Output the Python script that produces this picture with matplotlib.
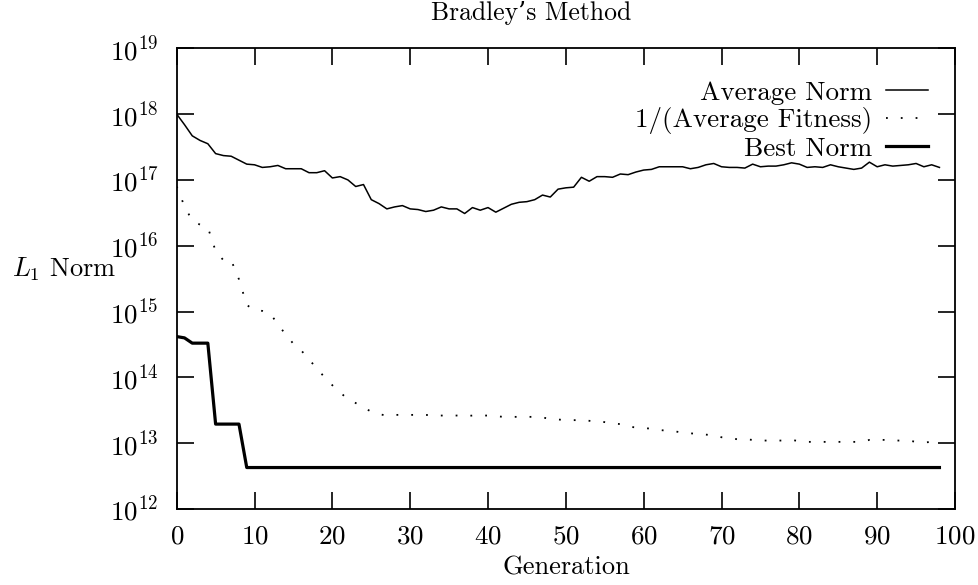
#!/usr/bin/env python3
"""
Redraw the "Bradley's Method" convergence plot (L1 norm per generation).
"""

import matplotlib

matplotlib.use("Agg")
import matplotlib.pyplot as plt
import numpy as np
from matplotlib.ticker import LogLocator, MultipleLocator

# generations 0..98
generations = list(range(99))

# log10 of the average norm
average_norm_log = [
    18.00, 17.84, 17.67, 17.60, 17.55, 17.40, 17.37, 17.36, 17.30, 17.24,
    17.23, 17.19, 17.20, 17.22, 17.17, 17.17, 17.17, 17.11, 17.11, 17.14,
    17.03, 17.05, 17.00, 16.90, 16.93, 16.70, 16.64, 16.56, 16.59, 16.61,
    16.56, 16.55, 16.52, 16.54, 16.59, 16.56, 16.56, 16.49, 16.58, 16.54,
    16.58, 16.51, 16.57, 16.63, 16.66, 16.67, 16.70, 16.77, 16.74, 16.86,
    16.88, 16.89, 17.04, 16.98, 17.05, 17.05, 17.04, 17.09, 17.08, 17.12,
    17.15, 17.16, 17.20, 17.20, 17.20, 17.20, 17.17, 17.19, 17.23, 17.25,
    17.20, 17.19, 17.19, 17.18, 17.24, 17.20, 17.21, 17.21, 17.23, 17.26,
    17.24, 17.19, 17.20, 17.19, 17.23, 17.20, 17.18, 17.16, 17.18, 17.27,
    17.20, 17.23, 17.21, 17.22, 17.23, 17.25, 17.20, 17.23, 17.19,
]

# log10 of 1/(average fitness)
inv_fitness_log = [
    16.90, 16.60, 16.38, 16.32, 16.28, 15.92, 15.78, 15.78, 15.49, 15.10,
    15.02, 15.01, 14.97, 14.81, 14.65, 14.51, 14.41, 14.27, 14.14, 14.00,
    13.88, 13.77, 13.67, 13.61, 13.54, 13.48, 13.44, 13.42, 13.43, 13.43,
    13.43, 13.43, 13.43, 13.42, 13.42, 13.42, 13.42, 13.41, 13.42, 13.42,
    13.42, 13.41, 13.40, 13.40, 13.40, 13.40, 13.40, 13.39, 13.37, 13.36,
    13.35, 13.35, 13.35, 13.34, 13.33, 13.32, 13.30, 13.29, 13.25, 13.24,
    13.23, 13.22, 13.20, 13.19, 13.18, 13.16, 13.15, 13.14, 13.13, 13.12,
    13.09, 13.08, 13.06, 13.06, 13.05, 13.04, 13.04, 13.04, 13.04, 13.05,
    13.03, 13.02, 13.02, 13.02, 13.02, 13.02, 13.02, 13.02, 13.02, 13.05,
    13.05, 13.05, 13.04, 13.04, 13.04, 13.02, 13.01, 13.02, 13.02,
]

# log10 of the best norm (step-wise)
best_norm_log = [14.62, 14.60, 14.52, 14.52, 14.52, 13.29, 13.29, 13.29, 13.29] + [12.63] * 90

series_labels = ["Average Norm", "1/(Average Fitness)", "Best Norm"]
title = "Bradley\u2019s Method"
x_label = "Generation"
y_label = r"$L_1$ Norm"

W, H = 979, 585


def main() -> None:
    plt.rcParams["font.family"] = ["cmr10", "DejaVu Serif"]
    plt.rcParams["mathtext.fontset"] = "cm"
    plt.rcParams["axes.formatter.use_mathtext"] = True
    fs = 19.5

    fig = plt.figure(figsize=(W / 100, H / 100), dpi=100)
    left, right, top, bottom = 176.7, 955.0, 48.3, 509.0
    ax = fig.add_axes([left / W, 1 - bottom / H, (right - left) / W, (bottom - top) / H])

    x = np.array(generations)
    ax.plot(x, 10 ** np.array(average_norm_log), color="black", lw=1.1,
            label=series_labels[0])
    ax.plot(x, 10 ** np.array(inv_fitness_log), color="black", lw=1.3,
            linestyle=(0, (1, 7.2)), label=series_labels[1])
    ax.plot(x, 10 ** np.array(best_norm_log), color="black", lw=2.3,
            label=series_labels[2])

    ax.set_yscale("log")
    ax.set_xlim(0, 100)
    ax.set_ylim(1e12, 1e19)
    ax.xaxis.set_major_locator(MultipleLocator(10))
    ax.yaxis.set_major_locator(LogLocator(base=10, numticks=20))
    ax.yaxis.set_minor_locator(LogLocator(base=10, subs=[], numticks=20))

    ax.tick_params(axis="both", which="major", direction="in", length=12,
                   width=1.2, top=True, right=True, labelsize=fs)
    ax.tick_params(axis="x", pad=11)
    ax.tick_params(axis="y", pad=13)
    for sp in ax.spines.values():
        sp.set_linewidth(1.3)

    fig.text(531 / W, 1 - 13 / H, title, ha="center", va="center", fontsize=18.5)
    fig.text(566 / W, 1 - 568 / H, x_label, ha="center", va="center", fontsize=19)
    fig.text(12 / W, 1 - 277 / H, y_label, ha="left", va="baseline", fontsize=19)

    leg = ax.legend(loc="upper right", bbox_to_anchor=(0.9653, 0.93),
                    frameon=False, markerfirst=False, fontsize=19.5,
                    handlelength=1.55, handletextpad=0.5, labelspacing=0.1,
                    borderpad=0, borderaxespad=0)
    for t in leg.get_texts():
        t.set_ha("right")

    fig.savefig("out.png", dpi=100)


if __name__ == "__main__":
    main()
